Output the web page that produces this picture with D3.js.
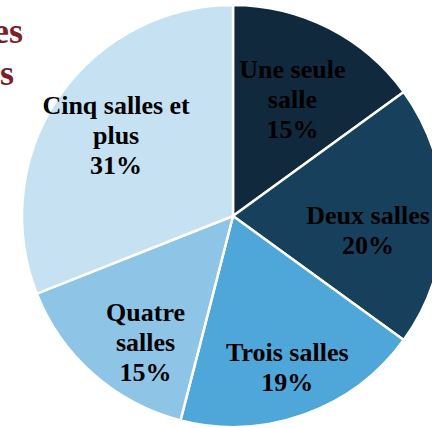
<!DOCTYPE html>
<html>
<head>
<meta charset="utf-8">
<script src="https://cdn.jsdelivr.net/npm/d3@7"></script>
<style>
  html, body { margin: 0; padding: 0; background: #fff; }
  svg { display: block; }
  text { font-family: "Liberation Serif", "Times New Roman", "DejaVu Serif", serif; font-weight: bold; }
</style>
</head>
<body>
<div id="chart"></div>
<script>
// pie chart: cinemas by number of screens

var categories = ["Une seule salle", "Deux salles", "Trois salles", "Quatre salles", "Cinq salles et plus"];
var labelLines = [["Une seule", "salle"], ["Deux salles"], ["Trois salles"], ["Quatre", "salles"], ["Cinq salles et", "plus"]];
var shares = [15, 20, 19, 15, 31];
var colors = ["#11293d", "#17405c", "#4fa6d9", "#8ec4e6", "#c5e1f2"];
// how far out each label sits (fraction of radius) plus a small nudge
var labelPos = [0.62, 0.64, 0.76, 0.72, 0.67];
var labelNudge = [[0, 0], [0, 14], [0, 0], [13, 12], [0, -2]];
var titleLines = ["Répartition des", "nombre de salles"];

var width = 432, height = 428;
var cx = 233, cy = 216, radius = 211;

var svg = d3.select("#chart").append("svg")
    .attr("width", width)
    .attr("height", height);

// title (mostly off the left edge, as in the original)
svg.append("g").selectAll("text")
    .data(titleLines)
    .enter().append("text")
    .attr("x", function(d, i) { return i === 0 ? 23 : 14; })
    .attr("y", function(d, i) { return 43 + i * 42; })
    .attr("text-anchor", "end")
    .style("font-size", "36px")
    .style("fill", "#7b1f2b")
    .text(function(d) { return d; });

var pie = d3.pie().sort(null).value(function(d) { return d; });
var arcs = pie(shares);

var arc = d3.arc().innerRadius(0).outerRadius(radius);

var g = svg.append("g").attr("transform", "translate(" + cx + "," + cy + ")");

g.selectAll("path")
    .data(arcs)
    .enter().append("path")
    .attr("d", arc)
    .attr("fill", function(d, i) { return colors[i]; })
    .attr("stroke", "#fff")
    .attr("stroke-width", 2.5)
    .attr("stroke-linejoin", "round");

var lineH = 30;

var labels = g.selectAll("text.lbl")
    .data(arcs)
    .enter().append("text")
    .attr("class", "lbl")
    .attr("text-anchor", "middle")
    .style("font-size", "26px")
    .style("fill", "#000")
    .attr("transform", function(d, i) {
        var r = radius * labelPos[i];
        var c = d3.arc().innerRadius(r).outerRadius(r).centroid(d);
        return "translate(" + (c[0] + labelNudge[i][0]) + "," + (c[1] + labelNudge[i][1]) + ")";
    });

labels.each(function(d, i) {
    var lines = labelLines[i].concat([shares[i] + "%"]);
    var t = d3.select(this);
    var y0 = -((lines.length - 1) * lineH) / 2 + 9;
    lines.forEach(function(s, k) {
        t.append("tspan")
            .attr("x", 0)
            .attr("y", y0 + k * lineH)
            .text(s);
    });
});
</script>
</body>
</html>
